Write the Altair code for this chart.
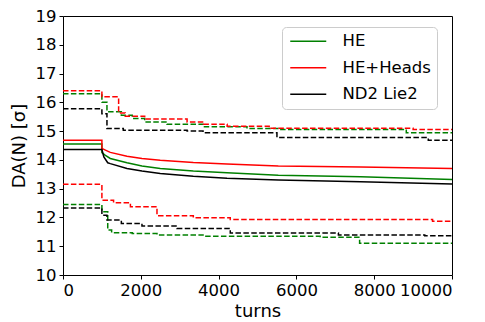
import altair as alt
import pandas as pd

# Mean DA(N) evolution (solid) for each model
he_turns = [0, 1000, 1000, 1090, 1216, 1645, 2030, 2500, 3350, 4216, 5535, 7650, 10000]
he_mean = [14.55, 14.55, 14.25, 14.16, 14.05, 13.90, 13.79, 13.70, 13.61, 13.55, 13.47, 13.41, 13.32]
heh_mean = [14.68, 14.68, 14.40, 14.34, 14.26, 14.13, 14.05, 13.99, 13.91, 13.86, 13.79, 13.75, 13.70]
nd2_turns = [0, 1000, 1050, 1150, 1216, 1645, 2030, 2500, 3350, 4216, 5535, 7650, 10000]
nd2_mean = [14.36, 14.36, 14.10, 13.90, 13.87, 13.70, 13.61, 13.53, 13.43, 13.36, 13.30, 13.24, 13.16]

# Upper / lower envelopes (dashed, step-wise)
heh_up_t = [0, 1000, 1430, 1600, 2100, 3190, 3610, 4220, 5300, 9000, 10000]
heh_up_v = [16.40, 16.19, 15.63, 15.52, 15.42, 15.32, 15.24, 15.17, 15.10, 15.06, 15.06]
he_up_t = [0, 1000, 1130, 1500, 1780, 2100, 2670, 3600, 4730, 5600, 8825, 10000]
he_up_v = [16.30, 16.00, 15.67, 15.55, 15.44, 15.32, 15.24, 15.15, 15.09, 15.06, 14.94, 14.94]
nd2_up_t = [0, 1000, 1130, 1550, 3190, 3600, 5500, 9390, 10000]
nd2_up_v = [15.78, 15.60, 15.09, 15.03, 15.00, 14.94, 14.78, 14.68, 14.68]

heh_lo_t = [0, 1000, 1300, 1733, 2416, 3350, 4300, 9500, 10000]
heh_lo_v = [13.15, 12.60, 12.51, 12.37, 12.06, 11.99, 11.93, 11.87, 11.87]
he_lo_t = [0, 1000, 1150, 1250, 1780, 2416, 3600, 6610, 7625, 10000]
he_lo_v = [12.45, 12.20, 11.56, 11.47, 11.44, 11.39, 11.35, 11.31, 11.10, 11.10]
nd2_lo_t = [0, 1000, 1130, 1500, 2030, 2930, 4300, 7080, 9300, 10000]
nd2_lo_v = [12.33, 12.08, 11.91, 11.79, 11.70, 11.62, 11.46, 11.39, 11.36, 11.36]

names = ["HE", "HE+Heads", "ND2 Lie2"]
colors = ["#008000", "#ff0000", "#000000"]
col = dict(zip(names, colors))

mean_rows = []
for name, ts, vs in [("HE", he_turns, he_mean), ("HE+Heads", he_turns, heh_mean),
                     ("ND2 Lie2", nd2_turns, nd2_mean)]:
    for i, (t, v) in enumerate(zip(ts, vs)):
        mean_rows.append({"model": name, "turns": t, "da": v, "order": i})
mean_df = pd.DataFrame(mean_rows)

env_rows = []
for name, bound, ts, vs in [
    ("HE", "up", he_up_t, he_up_v), ("HE+Heads", "up", heh_up_t, heh_up_v),
    ("ND2 Lie2", "up", nd2_up_t, nd2_up_v), ("HE", "lo", he_lo_t, he_lo_v),
    ("HE+Heads", "lo", heh_lo_t, heh_lo_v), ("ND2 Lie2", "lo", nd2_lo_t, nd2_lo_v),
]:
    for i, (t, v) in enumerate(zip(ts, vs)):
        env_rows.append({"model": name, "bound": bound, "key": name + bound,
                         "turns": t, "da": v, "col": col[name], "order": i})
env_df = pd.DataFrame(env_rows)

x = alt.X("turns:Q", title="turns",
          scale=alt.Scale(domain=[0, 10000], nice=False),
          axis=alt.Axis(values=[0, 2000, 4000, 6000, 8000, 10000], format="d"))
y = alt.Y("da:Q", title="DA(N) [σ]",
          scale=alt.Scale(domain=[10, 19], nice=False, zero=False),
          axis=alt.Axis(values=list(range(10, 20)), format="d"))

envelopes = alt.Chart(env_df).mark_line(
    interpolate="step-after", strokeWidth=1.5, strokeDash=[5.5, 2.4]
).encode(
    x=x, y=y,
    color=alt.Color("col:N", scale=None),
    detail="key:N",
    order="order:Q",
)

means = alt.Chart(mean_df).mark_line(strokeWidth=1.5).encode(
    x=x, y=y,
    color=alt.Color("model:N",
                    scale=alt.Scale(domain=names, range=colors),
                    legend=alt.Legend(title=None, orient="none",
                                      legendX=219, legendY=11)),
    order="order:Q",
)

chart = alt.layer(envelopes, means).properties(
    width=389, height=259,
    autosize=alt.AutoSizeParams(type="none"),
    padding={"left": 63, "top": 16, "right": 33, "bottom": 47},
).configure(
    font="DejaVu Sans",
).configure_view(
    stroke="black", strokeWidth=1,
).configure_axis(
    grid=False, domain=False,
    tickColor="black", tickSize=4, tickWidth=1,
    labelFontSize=16.5, labelColor="black", labelPadding=3,
    titleFontSize=18, titleFontWeight="normal", titleColor="black",
).configure_axisX(
    titlePadding=4,
).configure_axisY(
    titlePadding=7,
).configure_legend(
    symbolType="M-1,0H5", symbolSize=144, symbolStrokeWidth=1.5,
    labelFontSize=16.5, labelColor="black", labelOffset=38,
    fillColor="white", strokeColor="#cccccc", cornerRadius=4,
    padding=6, rowPadding=9.5,
)

chart.save("out.html", embed_options={"renderer": "svg", "actions": False})
